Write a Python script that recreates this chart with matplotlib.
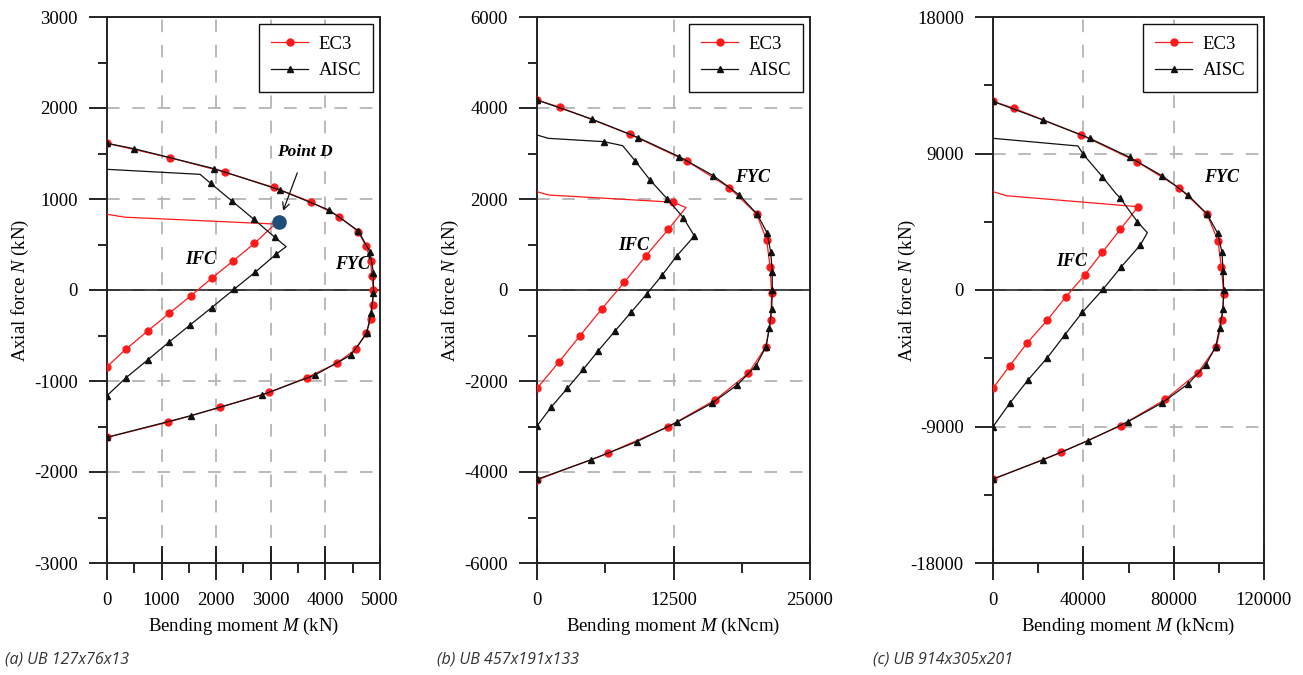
"""
plot.py
-------
N-M interaction curves (EC3 vs AISC) for three UB sections.
Outer curve = FYC, inner curve = IFC.  Saves out.png.
"""

import matplotlib
matplotlib.use("Agg")
import matplotlib.pyplot as plt
from matplotlib.ticker import MultipleLocator


# ---------------------------------------------------------------------------
# Data
# ---------------------------------------------------------------------------

# (a) UB 127x76x13  -- M in kN, N in kN
a_ec3_out_M = [0, 1150, 2170, 3050, 3730, 4255, 4600, 4745, 4830, 4850, 4880,
               4865, 4830, 4745, 4560, 4205, 3655, 2975, 2070, 1110, 0]
a_ec3_out_N = [1612, 1454, 1293, 1128, 970, 806, 641, 484, 319, 154, 0,
               -165, -322, -476, -648, -806, -963, -1125, -1289, -1454, -1619]
a_aisc_out_M = [0, 495, 1965, 3170, 4065, 4600, 4815, 4880, 4880, 4835, 4755,
                4470, 3810, 2835, 1540, 0]
a_aisc_out_N = [1612, 1553, 1333, 1099, 879, 652, 421, 190, -36, -256, -476,
                -714, -934, -1154, -1381, -1619]
a_ec3_in_M = [0, 330, 3080, 2700, 2315, 1930, 1540, 1140, 745, 350, 0]
a_ec3_in_N = [832, 800, 725, 513, 322, 135, -62, -256, -451, -648, -842]
a_aisc_in_M = [0, 1705, 1900, 2295, 2690, 3075, 3280, 3095, 2710, 2325, 1915,
               1520, 1130, 745, 350, 0]
a_aisc_in_N = [1326, 1271, 1172, 975, 777, 579, 476, 392, 194, 7, -194,
               -385, -575, -769, -963, -1161]
a_point_d = (3150, 747)

# (b) UB 457x191x133  -- M in kNcm
b_ec3_out_M = [0, 2110, 8520, 13710, 17610, 20115, 21030, 21340, 21490, 21400,
               20970, 19350, 16300, 12025, 6475, 0]
b_ec3_out_N = [4176, 4015, 3421, 2835, 2249, 1670, 1099, 513, -73, -659,
               -1245, -1831, -2418, -3004, -3590, -4176]
b_aisc_out_M = [0, 5010, 9280, 13030, 16145, 18525, 20175, 21090, 21400, 21545,
                21545, 21490, 21270, 20970, 20055, 18340, 15995, 12790, 9130,
                4915, 0]
b_aisc_out_N = [4176, 3758, 3348, 2930, 2513, 2088, 1663, 1245, 828, 403,
                0, -418, -842, -1245, -1663, -2088, -2491, -2909, -3333,
                -3736, -4161]
b_ec3_in_M = [0, 1035, 12480, 13645, 12025, 9950, 7995, 5925, 3940, 2015, 0]
b_ec3_in_N = [2161, 2088, 1930, 1812, 1334, 747, 169, -418, -1004, -1582, -2161]
b_aisc_in_M = [0, 1035, 6135, 7845, 8975, 10350, 11935, 13400, 14410, 12790,
               11475, 10045, 8610, 7145, 5615, 4240, 2775, 1280, 0]
b_aisc_in_N = [3407, 3333, 3260, 3172, 2842, 2418, 2000, 1590, 1187, 747,
               330, -88, -491, -901, -1334, -1743, -2161, -2579, -2989]

# (c) UB 914x305x201  -- M in kNcm
c_ec3_out_M = [0, 9300, 39145, 63765, 82360, 94760, 99630, 101135, 102155,
               101405, 98925, 90775, 76335, 56550, 30285, 0]
c_ec3_out_N = [12437, 11979, 10219, 8459, 6745, 4991, 3250, 1497, -264,
               -1978, -3738, -5452, -7206, -8947, -10701, -12481]
c_aisc_out_M = [0, 22140, 42820, 60530, 75000, 86345, 94760, 99500, 101405,
                101850, 102155, 101850, 100385, 98610, 94185, 86345, 75000,
                59780, 42070, 22005, 0]
c_aisc_out_N = [12437, 11208, 10001, 8749, 7516, 6263, 5011, 3738, 2486,
                1253, 0, -1253, -2486, -3738, -4945, -6197, -7430, -8683,
                -9935, -11208, -12459]
c_ec3_in_M = [0, 5910, 64205, 56400, 48425, 40605, 32195, 24080, 15225, 7395, 0]
c_ec3_in_N = [6481, 6217, 5492, 4002, 2486, 989, -462, -1978, -3474, -4991, -6481]
c_aisc_in_M = [0, 37640, 39850, 48425, 54330, 56400, 63910, 68345, 65245,
               56845, 48720, 39555, 31750, 24080, 15495, 7395, 0]
c_aisc_in_N = [10001, 9494, 8967, 7472, 6375, 6046, 4503, 3778, 2967,
               1536, 46, -1473, -2967, -4463, -5934, -7472, -9013]

x_units = ["kN", "kNcm", "kNcm"]
captions = ["(a) UB 127x76x13", "(b) UB 457x191x133", "(c) UB 914x305x201"]


# ---------------------------------------------------------------------------
# Style
# ---------------------------------------------------------------------------

plt.rcParams["font.family"] = ["Liberation Serif", "DejaVu Serif"]
plt.rcParams["mathtext.fontset"] = "custom"
plt.rcParams["mathtext.rm"] = "Liberation Serif"
plt.rcParams["mathtext.it"] = "Liberation Serif:italic"
plt.rcParams["axes.unicode_minus"] = False

_FS = 13.5
_EC3 = dict(color="#ff1a1a", lw=0.9, marker="o", ms=5.0, mec="#ff1a1a", mfc="#ff1a1a")
_AISC = dict(color="#111111", lw=0.9, marker="^", ms=4.6, mec="#111111", mfc="#111111")
_GRID = "#b4b4b4"

# axes boxes in figure pixels: left, right (top=17, bottom=563 for all)
_W, _H = 1303, 675
_BOX = [(107, 380), (537, 810), (993, 1264)]
_TOP, _BOT = 17, 563

# per-panel (xlim, xmajor, xminor, ylim, ymajor, yminor)
_AXES = [
    ((0, 5000), 1000, 500, (-3000, 3000), 1000, 500),
    ((0, 25000), 12500, 6250, (-6000, 6000), 2000, 1000),
    ((0, 120000), 40000, 20000, (-18000, 18000), 9000, 4500),
]


def _curve(ax, M, N, style, bare=(), label=None):
    """Line through all points, markers on all but the 'bare' ones."""
    marked = [i for i in range(len(M)) if i not in bare]
    ax.plot(M, N, label=label, markevery=marked, zorder=3, **style)


def _setup(ax, spec, unit):
    xlim, xmaj, xmin, ylim, ymaj, ymin = spec
    ax.set_xlim(*xlim)
    ax.set_ylim(*ylim)
    ax.xaxis.set_major_locator(MultipleLocator(xmaj))
    ax.xaxis.set_minor_locator(MultipleLocator(xmin))
    ax.yaxis.set_major_locator(MultipleLocator(ymaj))
    ax.yaxis.set_minor_locator(MultipleLocator(ymin))
    ax.tick_params(axis="x", which="major", direction="inout", length=24,
                   width=1.2, pad=9, labelsize=_FS)
    ax.tick_params(axis="x", which="minor", direction="out", length=7, width=1.2)
    ax.tick_params(axis="y", which="major", direction="out", length=13,
                   width=1.2, pad=8, labelsize=_FS)
    ax.tick_params(axis="y", which="minor", direction="out", length=6.5, width=1.2)
    ax.grid(True, which="major", color=_GRID, lw=1.3, linestyle=(0, (7, 7)))
    ax.axhline(0, color="#111111", lw=1.1, zorder=2)
    for s in ax.spines.values():
        s.set_linewidth(1.4)
        s.set_color("#222222")
    ax.set_xlabel(f"Bending moment $M$ ({unit})", fontsize=_FS)
    ax.set_ylabel("Axial force $N$ (kN)", fontsize=_FS)
    ax.xaxis.set_label_coords(0.5, -0.097)
    ax.yaxis.set_label_coords(-0.278, 0.5)


def _legend(ax):
    leg = ax.legend(loc="upper right", fontsize=_FS, fancybox=False,
                    framealpha=1, edgecolor="#111111", borderaxespad=0.35,
                    handlelength=2.0, handletextpad=0.55, labelspacing=0.5,
                    borderpad=0.65)
    leg.get_frame().set_linewidth(1.0)


def _tag(ax, x, y, s):
    ax.text(x, y, s, fontsize=13, fontweight="bold", fontstyle="italic",
            ha="center", va="center", zorder=6)


# ---------------------------------------------------------------------------
# Plot
# ---------------------------------------------------------------------------

fig = plt.figure(figsize=(_W / 100, _H / 100), dpi=100)
axes = []
for left, right in _BOX:
    axes.append(fig.add_axes([left / _W, (_H - _BOT) / _H,
                              (right - left) / _W, (_BOT - _TOP) / _H]))

panels = [
    (a_ec3_out_M, a_ec3_out_N, a_ec3_in_M, a_ec3_in_N, (0, 1, 2),
     a_aisc_out_M, a_aisc_out_N, a_aisc_in_M, a_aisc_in_N, (0, 1, 6)),
    (b_ec3_out_M, b_ec3_out_N, b_ec3_in_M, b_ec3_in_N, (0, 1, 3),
     b_aisc_out_M, b_aisc_out_N, b_aisc_in_M, b_aisc_in_N, (0, 1, 3)),
    (c_ec3_out_M, c_ec3_out_N, c_ec3_in_M, c_ec3_in_N, (0, 1),
     c_aisc_out_M, c_aisc_out_N, c_aisc_in_M, c_aisc_in_N, (0, 1, 4, 7)),
]

for ax, spec, unit, p in zip(axes, _AXES, x_units, panels):
    eo_M, eo_N, ei_M, ei_N, e_bare, ao_M, ao_N, ai_M, ai_N, a_bare = p
    _setup(ax, spec, unit)
    _curve(ax, eo_M, eo_N, _EC3, label="EC3")
    _curve(ax, ei_M, ei_N, _EC3, bare=e_bare)
    _curve(ax, ao_M, ao_N, _AISC, label="AISC")
    _curve(ax, ai_M, ai_N, _AISC, bare=a_bare)
    _legend(ax)

# annotations
ax = axes[0]
ax.plot(*a_point_d, "o", color="#1f4e7a", ms=9.5, zorder=5)
ax.annotate("Point D", xy=(3225, 870), xytext=(3630, 1520), fontsize=12.5,
            fontweight="bold", fontstyle="italic", ha="center", va="center",
            arrowprops=dict(arrowstyle="->", color="#111111", lw=0.9,
                            shrinkA=8, shrinkB=0))
_tag(ax, 1720, 330, "IFC")
_tag(ax, 4490, 275, "FYC")
_tag(axes[1], 19700, 2480, "FYC")
_tag(axes[1], 8880, 970, "IFC")
_tag(axes[2], 101300, 7450, "FYC")
_tag(axes[2], 34850, 1850, "IFC")

for x0, cap in zip([5, 437, 873], captions):
    fig.text(x0 / _W, 1 - 660 / _H, cap, fontsize=11.5, fontstyle="italic",
             family=["Open Sans", "DejaVu Sans"], color="#333333",
             ha="left", va="center")

fig.savefig("out.png", dpi=100)
